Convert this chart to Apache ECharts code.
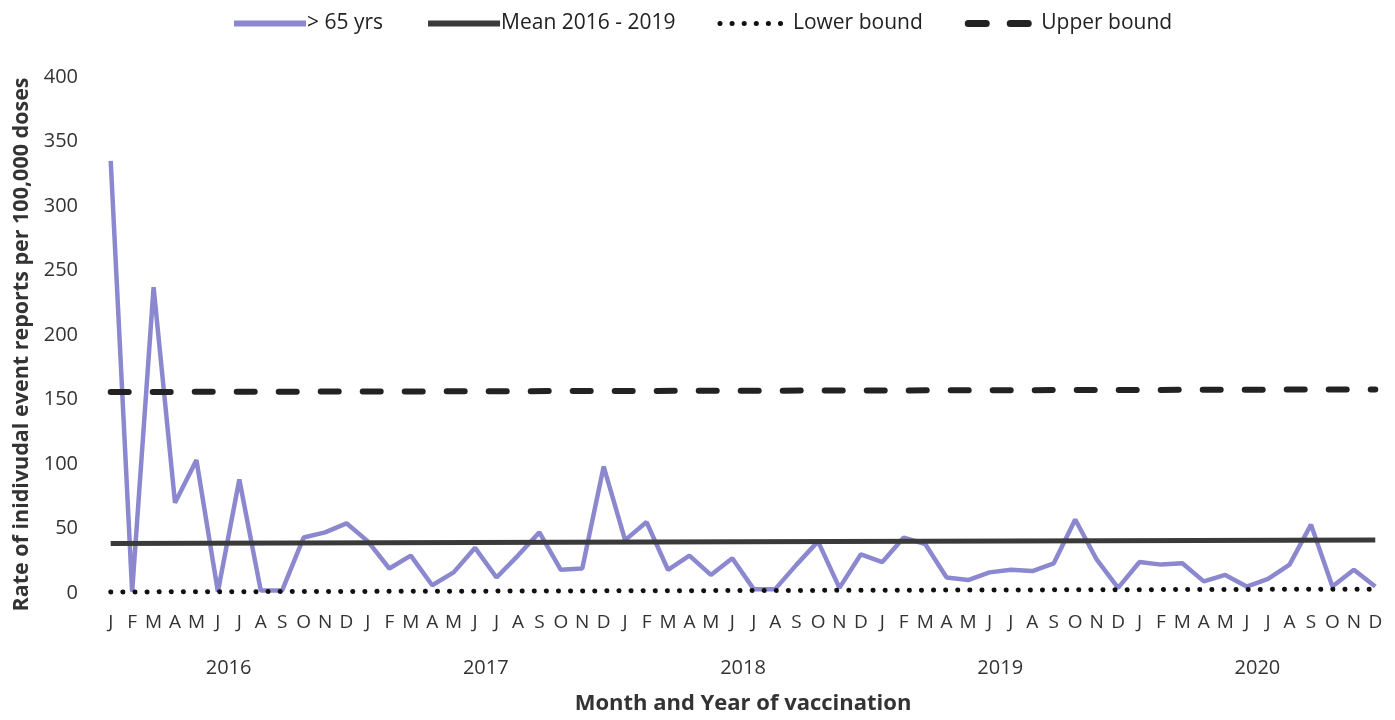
<!DOCTYPE html>
<html>
<head>
<meta charset="utf-8">
<script src="https://cdn.jsdelivr.net/npm/echarts@6/dist/echarts.min.js"></script>
<style>
  html, body { margin: 0; padding: 0; background: #fff; }
  #chart { width: 1395px; height: 720px; }
</style>
</head>
<body>
<div id="chart"></div>
<script>
// month categories, 2016-01 .. 2020-12
const years = ['2016', '2017', '2018', '2019', '2020']
const monthLetters = ['J', 'F', 'M', 'A', 'M', 'J', 'J', 'A', 'S', 'O', 'N', 'D']
const months = []
years.forEach(y => monthLetters.forEach((m, i) => months.push(y + '-' + (i + 1))))

// > 65 yrs rate per 100,000 doses
const over65 = [
  335, 1, 237, 70, 103, 1, 88, 2, 2, 43, 47, 54,
  40, 19, 29, 6, 16, 35, 12, 29, 47, 18, 19, 98,
  41, 55, 18, 29, 14, 27, 3, 3, 22, 40, 4, 30,
  24, 43, 38, 12, 10, 16, 18, 17, 23, 57, 26, 4,
  24, 22, 23, 9, 14, 5, 11, 22, 53, 5, 18, 5
]

// reference lines (start / end values)
const meanLine = [38.4, 41]
const lowerBound = [0.8, 3]
const upperBound = [155.8, 157.8]

const yTicks = { min: 0, max: 400, interval: 50 }

const font = "'Open Sans', 'Liberation Sans', sans-serif"

const chart = echarts.init(document.getElementById('chart'))

const ends = (arr) => [[months[0], arr[0]], [months[months.length - 1], arr[1]]]

const option = {
  animation: false,
  textStyle: { fontFamily: font },
  legend: {
    top: 8,
    left: 226,
    itemWidth: 72,
    itemHeight: 8,
    itemGap: 42,
    itemStyle: { opacity: 0 },
    textStyle: { fontSize: 21, color: '#222', fontFamily: font, padding: [0, 0, 0, -4] },
    data: [
      { name: '> 65 yrs', lineStyle: { width: 6 } },
      { name: 'Mean 2016 - 2019', lineStyle: { width: 6 } },
      { name: 'Lower bound', lineStyle: { width: 5 } },
      { name: 'Upper bound', lineStyle: { width: 7 } }
    ]
  },
  grid: {
    left: 100,
    right: 9,
    top: 77,
    bottom: 127,
    outerBoundsMode: 'none'
  },
  xAxis: [
    {
      type: 'category',
      data: months,
      boundaryGap: true,
      axisLine: { show: false },
      axisTick: { show: false },
      axisLabel: {
        interval: 0,
        margin: 20,
        fontSize: 19,
        color: '#333',
        formatter: v => monthLetters[parseInt(v.split('-')[1], 10) - 1]
      },
      name: 'Month and Year of vaccination',
      nameLocation: 'middle',
      nameGap: 100,
      nameTextStyle: { fontSize: 22, fontWeight: 'bold', color: '#333' }
    },
    {
      type: 'category',
      data: years,
      position: 'bottom',
      offset: 45,
      boundaryGap: true,
      axisLine: { show: false },
      axisTick: { show: false },
      axisLabel: { interval: 0, margin: 20, fontSize: 20, color: '#333' }
    }
  ],
  yAxis: {
    type: 'value',
    min: yTicks.min,
    max: yTicks.max,
    interval: yTicks.interval,
    axisLine: { show: false },
    axisTick: { show: false },
    splitLine: { show: false },
    axisLabel: { fontSize: 20, color: '#333', margin: 22 },
    name: 'Rate of inidivudal event reports per 100,000 doses',
    nameLocation: 'middle',
    nameGap: 67,
    nameTextStyle: { fontSize: 21.5, fontWeight: 'bold', color: '#333', padding: [0, 19, 0, 0] }
  },
  series: [
    {
      name: '> 65 yrs',
      type: 'line',
      data: over65,
      symbol: 'none',
      lineStyle: { color: '#8c88cf', width: 4.5 },
      itemStyle: { color: '#8c88cf' },
      z: 2
    },
    {
      name: 'Mean 2016 - 2019',
      type: 'line',
      data: ends(meanLine),
      symbol: 'none',
      lineStyle: { color: '#3a3a3a', width: 5 },
      itemStyle: { color: '#3a3a3a' },
      z: 3
    },
    {
      name: 'Lower bound',
      type: 'line',
      data: ends(lowerBound),
      symbol: 'none',
      lineStyle: { color: '#111', width: 5, type: [0.1, 12], cap: 'round' },
      itemStyle: { color: '#111' },
      z: 3
    },
    {
      name: 'Upper bound',
      type: 'line',
      data: ends(upperBound),
      symbol: 'none',
      lineStyle: { color: '#222', width: 6, type: [18, 24], cap: 'round' },
      itemStyle: { color: '#222' },
      z: 3
    }
  ]
}

chart.setOption(option)
window.addEventListener('resize', () => chart.resize())
</script>
</body>
</html>
